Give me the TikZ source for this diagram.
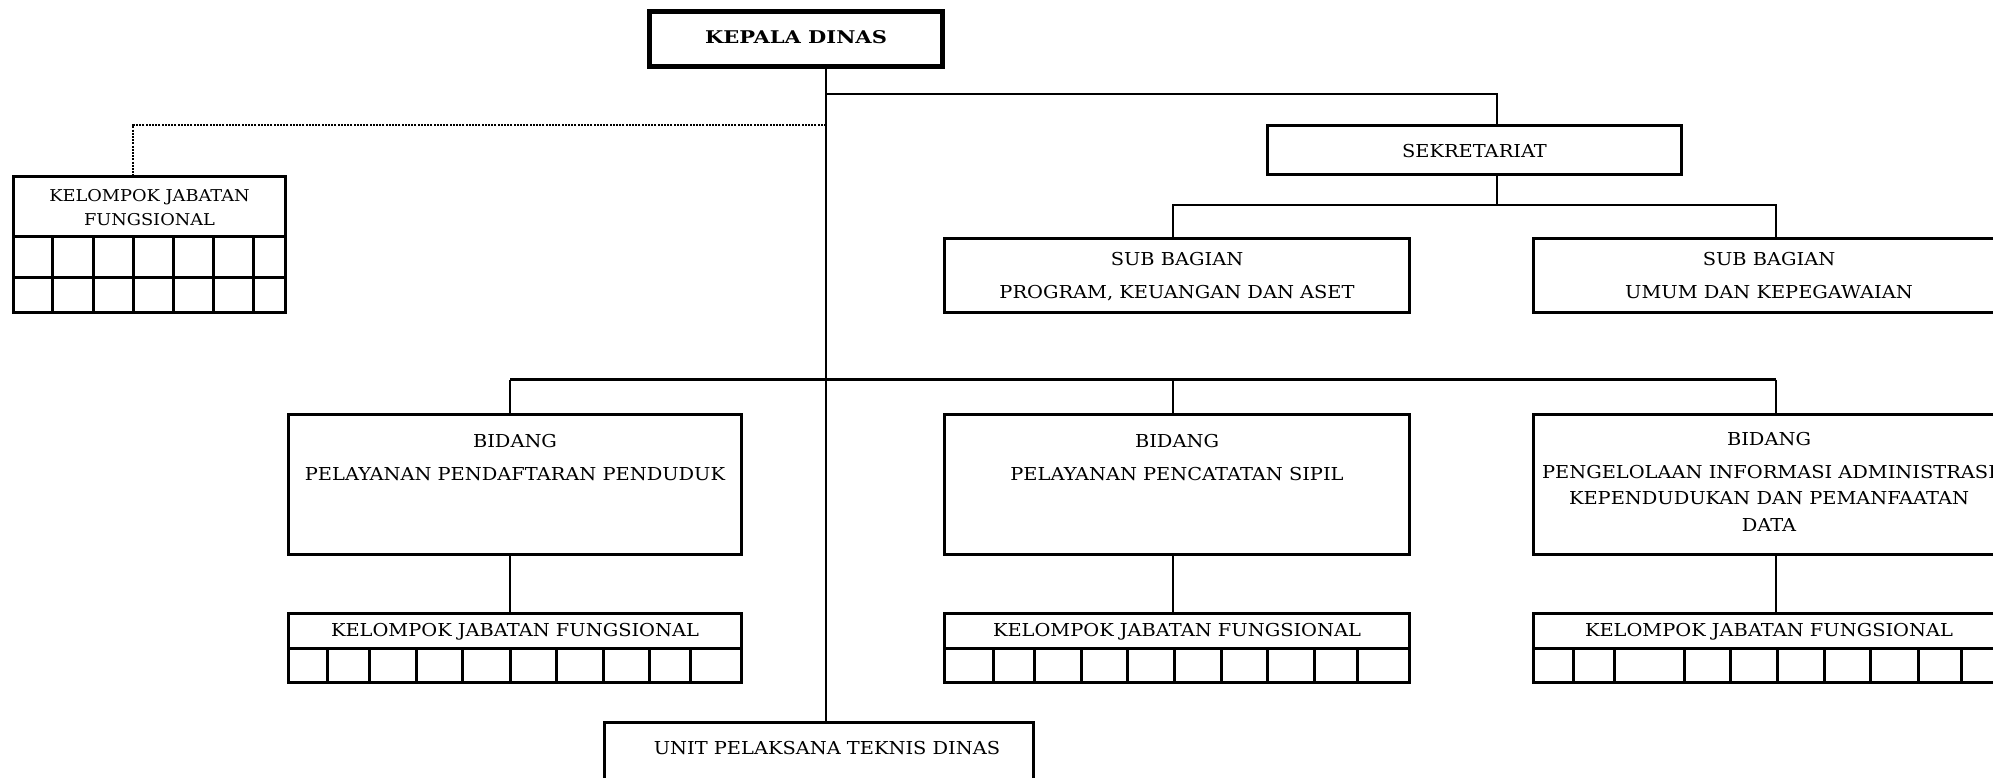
\documentclass[tikz,border=0pt]{standalone}
\usepackage{fontspec}
\setmainfont{DejaVu Serif}[FakeStretch=1.09]
\newfontfamily\headfont{DejaVu Serif}[FakeStretch=1.2]
\begin{document}
\begin{tikzpicture}[x=1pt,y=-1pt,
  box/.style={draw, line width=3.1pt, inner sep=0pt, outer sep=0pt},
  headbox/.style={box, line width=4.6pt},
  link/.style={line width=2.6pt},
  dotlink/.style={line width=2.2pt, dash pattern=on 2pt off 1.2pt},
  cell/.style={line width=3pt},
  txt/.style={inner sep=0pt, align=center, anchor=base, font=\fontsize{17.8}{23.5}\selectfont},
  smalltxt/.style={txt, font=\fontsize{16.3}{24}\selectfont}]
\useasboundingbox (0,0) rectangle (1993,777);
\clip (0,0) rectangle (1993,777);

% ---- boxes ----
\node[headbox, minimum width=293pt, minimum height=55pt] (kepala) at (796,39) {};
\node[box, minimum width=414pt, minimum height=49pt] (sek) at (1474.5,150) {};
\node[box, minimum width=465pt, minimum height=74pt] (sub1) at (1177,275.5) {};
\node[box, minimum width=471pt, minimum height=74pt] (sub2) at (1769,275.5) {};
\node[box, minimum width=272pt, minimum height=136pt] (kjf0) at (149.5,244.5) {};
\node[box, minimum width=453pt, minimum height=140pt] (bid1) at (515,484.5) {};
\node[box, minimum width=465pt, minimum height=140pt] (bid2) at (1177,484.5) {};
\node[box, minimum width=471pt, minimum height=140pt] (bid3) at (1769,484.5) {};
\node[box, minimum width=453pt, minimum height=69pt] (kjf1) at (515,648) {};
\node[box, minimum width=465pt, minimum height=69pt] (kjf2) at (1177,648) {};
\node[box, minimum width=471pt, minimum height=69pt] (kjf3) at (1769,648) {};
\node[box, minimum width=429pt, minimum height=80pt] (upt) at (819,762.5) {};

% ---- texts (multi-line nodes sit on the baseline of their last line) ----
\node[txt, font=\headfont\bfseries\fontsize{17.5}{20}\selectfont] (kepalaT) at (796,43) {KEPALA DINAS};
\node[txt] (sekT) at (1474.5,157) {SEKRETARIAT};
\node[txt, font=\fontsize{17.8}{33}\selectfont] (sub1T) at (1177,298) {SUB BAGIAN\\PROGRAM, KEUANGAN DAN ASET};
\node[txt, font=\fontsize{17.8}{33}\selectfont] (sub2T) at (1769,298) {SUB BAGIAN\\UMUM DAN KEPEGAWAIAN};
\node[smalltxt] (kjf0T) at (149.5,225) {KELOMPOK JABATAN\\FUNGSIONAL};
\node[txt] (bid1T) at (515,480) {BIDANG\\[9.5pt]PELAYANAN PENDAFTARAN PENDUDUK};
\node[txt] (bid2T) at (1177,480) {BIDANG\\[9.5pt]PELAYANAN PENCATATAN SIPIL};
\node[txt, font=\fontsize{17.8}{26.5}\selectfont] (bid3T) at (1769,531) {BIDANG\\[6pt]PENGELOLAAN INFORMASI ADMINISTRASI\\KEPENDUDUKAN DAN PEMANFAATAN\\DATA};
\node[txt] (kjf1T) at (515,636) {KELOMPOK JABATAN FUNGSIONAL};
\node[txt] (kjf2T) at (1177,636) {KELOMPOK JABATAN FUNGSIONAL};
\node[txt] (kjf3T) at (1769,636) {KELOMPOK JABATAN FUNGSIONAL};
\node[txt] (uptT) at (827,754) {UNIT PELAKSANA TEKNIS DINAS};

% ---- grids of the functional groups ----
\draw[cell] (kjf0.west |- 0,236) -- (kjf0.east |- 0,236);
\draw[cell] (kjf0.west |- 0,277) -- (kjf0.east |- 0,277);
\foreach \x in {52,93,133,173,213,253}
  \draw[cell] (\x,236) -- (\x,0 |- kjf0.south);
\foreach \k in {kjf1,kjf2,kjf3}
  \draw[cell] (\k.west) -- (\k.east);
\foreach \x in {327,369,416,462,510,556,603,649,690}
  \draw[cell] (\x,648) -- (\x,0 |- kjf1.south);
\foreach \x in {993,1034,1081,1127,1174,1221,1267,1314,1357}
  \draw[cell] (\x,648) -- (\x,0 |- kjf2.south);
\foreach \x in {1573,1614,1684,1730,1777,1824,1870,1918,1961}
  \draw[cell] (\x,648) -- (\x,0 |- kjf3.south);

% ---- tap points of the connectors ----
\coordinate (trunk) at (826,0);
\coordinate (sekTap) at (1497,94);
\coordinate (subBar) at (1497,205);
\coordinate (tapL) at (510,379.5);
\coordinate (tapM) at (1173,379.5);
\coordinate (tapR) at (1776,379.5);
\coordinate (dotTap) at (826,125);

% ---- connectors ----
\draw[link] (kepala.south -| trunk) -- (upt.north -| trunk);
\draw[link] (trunk |- sekTap) -- (sekTap) -- (sekTap |- sek.north);
\draw[link] (sekTap |- sek.south) -- (subBar);
\draw[link] (sub1.north -| tapM) -- (tapM |- subBar) -- (tapR |- subBar) -- (sub2.north -| tapR);
\draw[dotlink] (dotTap) -| (kjf0.north -| 133,0);
\draw[link] (tapL) -- (tapR);
\draw[link] (tapL) -- (bid1.north -| tapL);
\draw[link] (tapM) -- (bid2.north -| tapM);
\draw[link] (tapR) -- (bid3.north -| tapR);
\draw[link] (bid1.south -| tapL) -- (kjf1.north -| tapL);
\draw[link] (bid2.south -| tapM) -- (kjf2.north -| tapM);
\draw[link] (bid3.south -| tapR) -- (kjf3.north -| tapR);
\end{tikzpicture}
\end{document}
